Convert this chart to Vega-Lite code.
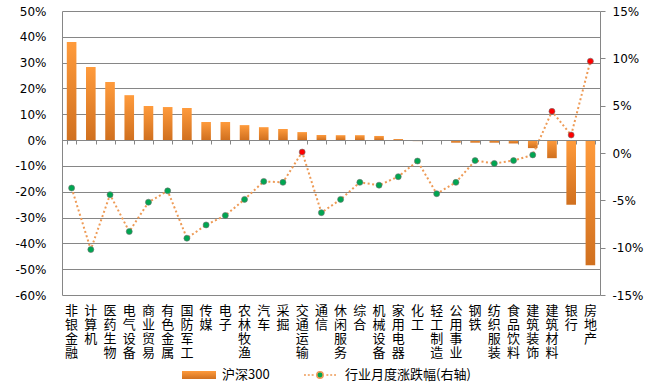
{
  "$schema": "https://vega.github.io/schema/vega-lite/v6.json",
  "width": 538,
  "height": 284,
  "autosize": {"type": "none"},
  "padding": {"left": 62, "top": 11, "right": 50, "bottom": 91},
  "background": "#ffffff",
  "data": {
    "values": [
      {"name": "非银金融", "hs": 0.380, "chg": -0.037},
      {"name": "计算机", "hs": 0.283, "chg": -0.102},
      {"name": "医药生物", "hs": 0.225, "chg": -0.044},
      {"name": "电气设备", "hs": 0.174, "chg": -0.083},
      {"name": "商业贸易", "hs": 0.132, "chg": -0.052},
      {"name": "有色金属", "hs": 0.128, "chg": -0.040},
      {"name": "国防军工", "hs": 0.124, "chg": -0.090},
      {"name": "传媒", "hs": 0.070, "chg": -0.076},
      {"name": "电子", "hs": 0.070, "chg": -0.066},
      {"name": "农林牧渔", "hs": 0.058, "chg": -0.049},
      {"name": "汽车", "hs": 0.050, "chg": -0.030},
      {"name": "采掘", "hs": 0.043, "chg": -0.031},
      {"name": "交通运输", "hs": 0.031, "chg": 0.001},
      {"name": "通信", "hs": 0.020, "chg": -0.063},
      {"name": "休闲服务", "hs": 0.019, "chg": -0.049},
      {"name": "综合", "hs": 0.019, "chg": -0.031},
      {"name": "机械设备", "hs": 0.016, "chg": -0.034},
      {"name": "家用电器", "hs": 0.004, "chg": -0.025},
      {"name": "化工", "hs": -0.004, "chg": -0.0085},
      {"name": "轻工制造", "hs": 0.0, "chg": -0.043},
      {"name": "公用事业", "hs": -0.010, "chg": -0.031},
      {"name": "钢铁", "hs": -0.010, "chg": -0.008},
      {"name": "纺织服装", "hs": -0.010, "chg": -0.011},
      {"name": "食品饮料", "hs": -0.013, "chg": -0.008},
      {"name": "建筑装饰", "hs": -0.031, "chg": -0.002},
      {"name": "建筑材料", "hs": -0.070, "chg": 0.044},
      {"name": "银行", "hs": -0.250, "chg": 0.019},
      {"name": "房地产", "hs": -0.485, "chg": 0.097}
    ]
  },
  "encoding": {
    "x": {
      "field": "name",
      "type": "nominal",
      "sort": null,
      "scale": {"paddingInner": 0.5, "paddingOuter": 0.25}
    }
  },
  "layer": [
    {
      "mark": {
        "type": "bar",
        "strokeWidth": 0,
        "fill": {
          "gradient": "linear",
          "x1": 0, "y1": 0, "x2": 0, "y2": 1,
          "stops": [
            {"offset": 0, "color": "#FF9B3C"},
            {"offset": 1, "color": "#D0701F"}
          ]
        }
      },
      "encoding": {
        "x": {
          "field": "name",
          "type": "nominal",
          "sort": null,
          "axis": {
            "orient": "bottom",
            "title": null,
            "domain": false,
            "ticks": false,
            "labelAngle": 0,
            "labelExpr": "split(datum.label, '')",
            "labelFont": "Noto Sans CJK SC",
            "labelFontSize": 13,
            "labelLineHeight": 14,
            "labelColor": "#000000",
            "labelPadding": 9,
            "labelBaseline": "top"
          }
        },
        "y": {
          "field": "hs",
          "type": "quantitative",
          "scale": {"domain": [-0.6, 0.5], "nice": false, "zero": false},
          "axis": {
            "orient": "left",
            "title": null,
            "values": [-0.6, -0.5, -0.4, -0.3, -0.2, -0.1, 0, 0.1, 0.2, 0.3, 0.4, 0.5],
            "labelExpr": "round(datum.value * 100) + '%'",
            "grid": true,
            "ticks": false,
            "domain": true,
            "labelPadding": 16,
            "labelFont": "DejaVu Sans",
            "labelFontSize": 12,
            "labelColor": "#000000"
          }
        },
        "stroke": {
          "datum": "沪深300",
          "type": "nominal",
          "scale": {"range": ["#E8821E"]},
          "legend": {
            "orient": "none",
            "legendX": 120,
            "legendY": 347,
            "title": null,
            "symbolType": "M-1,-0.24H1V0.24H-1Z",
            "symbolSize": 1156,
            "symbolFillColor": "#E8821E",
            "symbolStrokeWidth": 0,
            "labelFont": "Noto Sans CJK SC",
            "labelFontSize": 13,
            "labelColor": "#000000",
            "labelOffset": 6
          }
        }
      }
    },
    {
      "layer": [
        {
          "mark": {
            "type": "line",
            "strokeWidth": 2,
            "strokeDash": [2, 2.5]
          },
          "encoding": {
            "x": {
              "field": "name",
              "type": "nominal",
              "sort": null,
              "axis": {
                "orient": "bottom",
                "offset": -155,
                "title": null,
                "labels": false,
                "domain": true,
                "ticks": true,
                "tickBand": "extent",
                "tickSize": 4,
                "grid": false,
                "zindex": 1
              }
            },
            "y": {
              "field": "chg",
              "type": "quantitative",
              "scale": {"domain": [-0.15, 0.15], "nice": false, "zero": false},
              "axis": {
                "orient": "right",
                "title": null,
                "values": [-0.15, -0.1, -0.05, 0, 0.05, 0.1, 0.15],
                "labelExpr": "round(datum.value * 100) + '%'",
                "grid": false,
                "ticks": true,
                "tickSize": 5,
                "domain": true,
                "labelPadding": 7,
                "labelFont": "DejaVu Sans",
                "labelFontSize": 12,
                "labelColor": "#000000"
              }
            },
            "stroke": {
              "datum": "行业月度涨跌幅(右轴)",
              "type": "nominal",
              "scale": {"range": ["#EE9A55"]},
              "legend": {
                "orient": "none",
                "legendX": 241,
                "legendY": 347,
                "title": null,
                "symbolType": "M-1,0H-0.88M-0.76,0H-0.64M-0.52,0H-0.4M0.4,0H0.52M0.64,0H0.76M0.88,0H1M-0.2,0A0.2,0.2 0 1,0 0.2,0A0.2,0.2 0 1,0 -0.2,0Z",
                "symbolSize": 1024,
                "symbolFillColor": "#00A651",
                "symbolStrokeWidth": 1.5,
                "symbolDash": [],
                "labelFont": "Noto Sans CJK SC",
                "labelFontSize": 13,
                "labelColor": "#000000",
                "labelOffset": 8
              }
            }
          }
        },
        {
          "mark": {"type": "point", "filled": true, "size": 36, "stroke": "#707070", "strokeWidth": 0.6, "opacity": 1},
          "encoding": {
            "y": {"field": "chg", "type": "quantitative"},
            "fill": {
              "condition": {"test": "datum.chg > 0", "value": "#FF0000"},
              "value": "#00A651"
            }
          }
        }
      ]
    }
  ],
  "resolve": {
    "scale": {"y": "independent", "stroke": "independent"},
    "axis": {"x": "independent"},
    "legend": {"stroke": "independent"}
  },
  "config": {
    "view": {"stroke": null},
    "axis": {
      "domainColor": "#868686",
      "tickColor": "#868686",
      "gridColor": "#868686",
      "gridOpacity": 1,
      "domainWidth": 1,
      "gridWidth": 1
    }
  }
}
